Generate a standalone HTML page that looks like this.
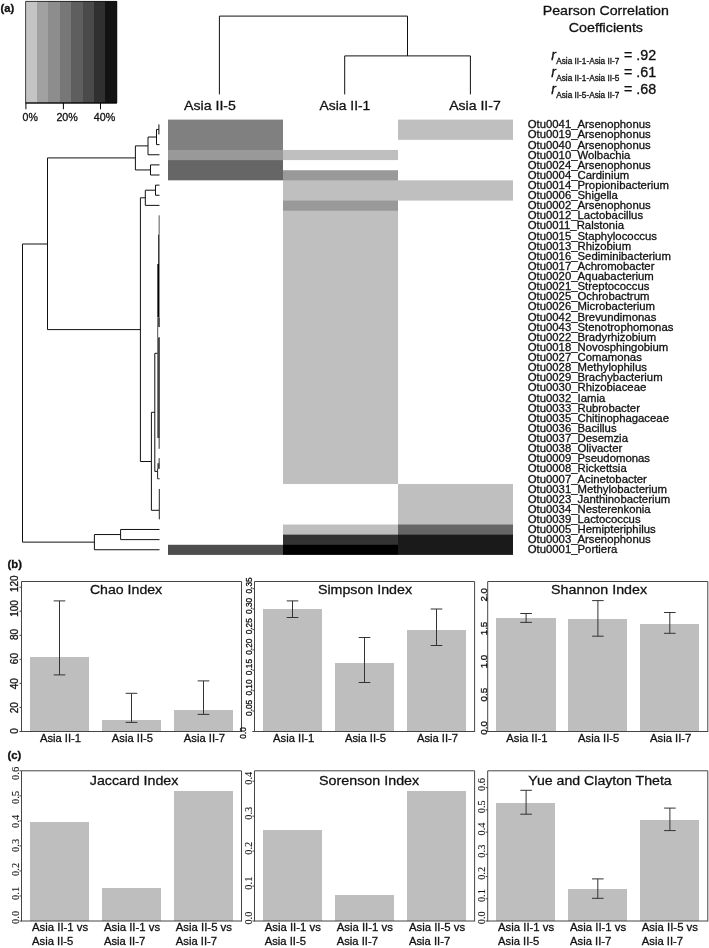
<!DOCTYPE html>
<html lang="en"><head><meta charset="utf-8"><title>Figure</title>
<style>
html,body{margin:0;padding:0;background:#fff;}
svg{display:block;font-family:"Liberation Sans", Arial, Helvetica, sans-serif;fill:#111;}
text{stroke:#111;stroke-width:0.3px;}
.sf{font-family:"Liberation Serif", "Times New Roman", serif;stroke-width:0.12px;}
</style></head><body>
<svg width="709" height="948" viewBox="0 0 709 948">
<rect x="0" y="0" width="709" height="948" fill="#ffffff"/>
<text x="0.50" y="12.00" font-size="11.2" font-weight="bold" >(a)</text>
<g shape-rendering="crispEdges">
<rect x="25.60" y="1.40" width="11.70" height="101.60" fill="#c4c4c4" />
<rect x="37.00" y="1.40" width="11.70" height="101.60" fill="#a1a1a1" />
<rect x="48.40" y="1.40" width="11.70" height="101.60" fill="#8d8d8d" />
<rect x="59.80" y="1.40" width="11.70" height="101.60" fill="#777777" />
<rect x="71.20" y="1.40" width="11.70" height="101.60" fill="#5e5e5e" />
<rect x="82.60" y="1.40" width="11.70" height="101.60" fill="#4a4a4a" />
<rect x="94.00" y="1.40" width="11.70" height="101.60" fill="#303030" />
<rect x="105.40" y="1.40" width="11.70" height="101.60" fill="#131313" />
</g>
<path d="M25.60,1.40 H116.80 V103.00 H25.60 Z" fill="none" stroke="#111" stroke-width="0.8" />
<line x1="25.60" y1="103.00" x2="116.80" y2="103.00" stroke="#000" stroke-width="1.2" />
<line x1="25.90" y1="103.00" x2="25.90" y2="109.20" stroke="#000" stroke-width="1.0" />
<text x="22.60" y="121.00" font-size="10.8" textLength="15.30" lengthAdjust="spacingAndGlyphs" >0%</text>
<line x1="63.40" y1="103.00" x2="63.40" y2="109.20" stroke="#000" stroke-width="1.0" />
<text x="56.40" y="121.00" font-size="10.8" textLength="21.50" lengthAdjust="spacingAndGlyphs" >20%</text>
<line x1="100.50" y1="103.00" x2="100.50" y2="109.20" stroke="#000" stroke-width="1.0" />
<text x="93.80" y="121.00" font-size="10.8" textLength="21.50" lengthAdjust="spacingAndGlyphs" >40%</text>
<g>
<rect x="168.00" y="119.60" width="115.00" height="30.97" fill="#808080" />
<rect x="168.00" y="149.97" width="115.00" height="10.72" fill="#999999" />
<rect x="168.00" y="160.09" width="115.00" height="20.25" fill="#666666" />
<rect x="168.00" y="544.78" width="115.00" height="10.12" fill="#4d4d4d" />
<rect x="283.00" y="149.97" width="115.00" height="10.12" fill="#bfbfbf" />
<rect x="283.00" y="170.22" width="115.00" height="10.72" fill="#999999" />
<rect x="283.00" y="180.34" width="115.00" height="20.85" fill="#bfbfbf" />
<rect x="283.00" y="200.59" width="115.00" height="10.72" fill="#999999" />
<rect x="283.00" y="210.71" width="115.00" height="273.33" fill="#bfbfbf" />
<rect x="283.00" y="524.53" width="115.00" height="10.72" fill="#bfbfbf" />
<rect x="283.00" y="534.65" width="115.00" height="10.72" fill="#333333" />
<rect x="283.00" y="544.78" width="115.00" height="10.12" fill="#000000" />
<rect x="398.00" y="119.60" width="115.00" height="20.25" fill="#bfbfbf" />
<rect x="398.00" y="180.34" width="115.00" height="20.25" fill="#bfbfbf" />
<rect x="398.00" y="484.04" width="115.00" height="41.09" fill="#bfbfbf" />
<rect x="398.00" y="524.53" width="115.00" height="10.72" fill="#666666" />
<rect x="398.00" y="534.65" width="115.00" height="20.25" fill="#1a1a1a" />
</g>
<path d="M219.4,94.4 V16.1 H407.5 V55.9 M344.7,94.4 V55.9 H470.4 V94.4" fill="none" stroke="#111" stroke-width="1.0" />
<text x="184.00" y="110.00" font-size="13.7" textLength="51.90" lengthAdjust="spacingAndGlyphs" >Asia II-5</text>
<text x="319.50" y="110.00" font-size="13.7" textLength="50.80" lengthAdjust="spacingAndGlyphs" >Asia II-1</text>
<text x="449.20" y="110.00" font-size="13.7" textLength="51.60" lengthAdjust="spacingAndGlyphs" >Asia II-7</text>
<text x="542.70" y="15.20" font-size="13.6" textLength="126.20" lengthAdjust="spacingAndGlyphs" >Pearson Correlation</text>
<text x="568.80" y="32.00" font-size="13.6" textLength="74.20" lengthAdjust="spacingAndGlyphs" >Coefficients</text>
<text x="551.30" y="60.00" font-size="14" font-style="italic" >r</text>
<text x="556.20" y="64.40" font-size="8.2" textLength="63.20" lengthAdjust="spacingAndGlyphs" >Asia II-1-Asia II-7</text>
<text x="624.00" y="60.00" font-size="13.8" textLength="32.20" lengthAdjust="spacingAndGlyphs" >= .92</text>
<text x="551.30" y="77.00" font-size="14" font-style="italic" >r</text>
<text x="556.20" y="81.40" font-size="8.2" textLength="63.20" lengthAdjust="spacingAndGlyphs" >Asia II-1-Asia II-5</text>
<text x="624.00" y="77.00" font-size="13.8" textLength="32.20" lengthAdjust="spacingAndGlyphs" >= .61</text>
<text x="551.30" y="94.00" font-size="14" font-style="italic" >r</text>
<text x="556.20" y="98.40" font-size="8.2" textLength="63.20" lengthAdjust="spacingAndGlyphs" >Asia II-5-Asia II-7</text>
<text x="624.00" y="94.00" font-size="13.8" textLength="32.20" lengthAdjust="spacingAndGlyphs" >= .68</text>
<g font-size="11.35">
<text x="527.7" y="128.26">Otu0041_Arsenophonus</text>
<text x="527.7" y="138.38">Otu0019_Arsenophonus</text>
<text x="527.7" y="148.51">Otu0040_Arsenophonus</text>
<text x="527.7" y="158.63">Otu0010_Wolbachia</text>
<text x="527.7" y="168.75">Otu0024_Arsenophonus</text>
<text x="527.7" y="178.88">Otu0004_Cardinium</text>
<text x="527.7" y="189.00">Otu0014_Propionibacterium</text>
<text x="527.7" y="199.12">Otu0006_Shigella</text>
<text x="527.7" y="209.25">Otu0002_Arsenophonus</text>
<text x="527.7" y="219.37">Otu0012_Lactobacillus</text>
<text x="527.7" y="229.49">Otu0011_Ralstonia</text>
<text x="527.7" y="239.62">Otu0015_Staphylococcus</text>
<text x="527.7" y="249.74">Otu0013_Rhizobium</text>
<text x="527.7" y="259.86">Otu0016_Sediminibacterium</text>
<text x="527.7" y="269.99">Otu0017_Achromobacter</text>
<text x="527.7" y="280.11">Otu0020_Aquabacterium</text>
<text x="527.7" y="290.23">Otu0021_Streptococcus</text>
<text x="527.7" y="300.36">Otu0025_Ochrobactrum</text>
<text x="527.7" y="310.48">Otu0026_Microbacterium</text>
<text x="527.7" y="320.60">Otu0042_Brevundimonas</text>
<text x="527.7" y="330.73">Otu0043_Stenotrophomonas</text>
<text x="527.7" y="340.85">Otu0022_Bradyrhizobium</text>
<text x="527.7" y="350.97">Otu0018_Novosphingobium</text>
<text x="527.7" y="361.10">Otu0027_Comamonas</text>
<text x="527.7" y="371.22">Otu0028_Methylophilus</text>
<text x="527.7" y="381.34">Otu0029_Brachybacterium</text>
<text x="527.7" y="391.47">Otu0030_Rhizobiaceae</text>
<text x="527.7" y="401.59">Otu0032_Iamia</text>
<text x="527.7" y="411.71">Otu0033_Rubrobacter</text>
<text x="527.7" y="421.84">Otu0035_Chitinophagaceae</text>
<text x="527.7" y="431.96">Otu0036_Bacillus</text>
<text x="527.7" y="442.08">Otu0037_Desemzia</text>
<text x="527.7" y="452.21">Otu0038_Olivacter</text>
<text x="527.7" y="462.33">Otu0009_Pseudomonas</text>
<text x="527.7" y="472.45">Otu0008_Rickettsia</text>
<text x="527.7" y="482.58">Otu0007_Acinetobacter</text>
<text x="527.7" y="492.70">Otu0031_Methylobacterium</text>
<text x="527.7" y="502.82">Otu0023_Janthinobacterium</text>
<text x="527.7" y="512.95">Otu0034_Nesterenkonia</text>
<text x="527.7" y="523.07">Otu0039_Lactococcus</text>
<text x="527.7" y="533.19">Otu0005_Hemipteriphilus</text>
<text x="527.7" y="543.32">Otu0003_Arsenophonus</text>
<text x="527.7" y="553.44">Otu0001_Portiera</text>
</g>
<path d="M158.9,124.36 V134.49 M158.9,129.43 H156.5 V144.62 H159.5 M156.5,137.02 H148.0 V154.75 H159.5 M159.5,164.88 H150.5 V175.00 H159.5 M148.0,145.89 H135.4 V169.94 H150.5 M159.5,185.13 H155.5 V195.26 H159.5 M155.5,190.20 H145.3 V205.39 H159.5 M145.3,197.79 H140.4 V461.5 H151.4 M154.8,412.3 H151.4 V510.3 H159.0 M157.6,353.3 H154.8 V471.4 H157.6 M135.4,157.91 H47.5 V329.6 H140.4 M159.5,529.48 H120.6 V539.61 H159.5 M120.6,534.54 H94.4 V549.74 H159.5 M47.5,244.0 H22.5 V542.14 H94.4" fill="none" stroke="#111" stroke-width="1.0" />
<line x1="159.15" y1="215.30" x2="159.15" y2="234.50" stroke="#444" stroke-width="0.9" />
<line x1="158.80" y1="234.50" x2="158.80" y2="264.00" stroke="#333" stroke-width="1.5" />
<line x1="158.40" y1="264.00" x2="158.40" y2="317.30" stroke="#000" stroke-width="2.1" />
<line x1="158.60" y1="317.30" x2="158.60" y2="327.10" stroke="#4a4a4a" stroke-width="2.6" />
<line x1="157.70" y1="327.10" x2="157.70" y2="337.30" stroke="#505050" stroke-width="1.0" />
<line x1="158.60" y1="337.30" x2="158.60" y2="438.00" stroke="#444" stroke-width="2.6" />
<line x1="159.15" y1="438.00" x2="159.15" y2="448.80" stroke="#333" stroke-width="1.0" />
<line x1="159.15" y1="458.10" x2="159.15" y2="468.70" stroke="#333" stroke-width="1.0" />
<path d="M157.6,468.7 V478.8 H159.6" fill="none" stroke="#222" stroke-width="1.0" />
<line x1="158.40" y1="463.20" x2="158.40" y2="468.90" stroke="#444" stroke-width="2.0" />
<line x1="159.30" y1="488.97" x2="159.30" y2="519.35" stroke="#222" stroke-width="1.0" />
<text x="7.50" y="568.40" font-size="11.3" font-weight="bold" >(b)</text>
<text x="7.50" y="759.00" font-size="11.3" font-weight="bold" >(c)</text>
<g shape-rendering="crispEdges">
<rect x="30.30" y="657.40" width="58.80" height="74.10" fill="#bebebe" />
<rect x="102.20" y="719.70" width="58.80" height="11.80" fill="#bebebe" />
<rect x="174.00" y="710.30" width="59.00" height="21.20" fill="#bebebe" />
</g>
<path d="M21.50,732.00 V581.50 H241.50 V732.00" fill="none" stroke="#454545" stroke-width="1.0" />
<line x1="21.50" y1="731.50" x2="241.50" y2="731.50" stroke="#454545" stroke-width="1.0" />
<text x="89.90" y="594.00" font-size="13.7" textLength="72.30" lengthAdjust="spacingAndGlyphs" >Chao Index</text>
<path d="M53.70,600.90 H65.30 M59.50,600.90 V674.90 M53.70,674.90 H65.30" fill="none" stroke="#333" stroke-width="1.0" />
<path d="M125.70,693.30 H137.30 M131.50,693.30 V722.40 M125.70,722.40 H137.30" fill="none" stroke="#333" stroke-width="1.0" />
<path d="M197.70,680.90 H209.30 M203.50,680.90 V714.40 M197.70,714.40 H209.30" fill="none" stroke="#333" stroke-width="1.0" />
<line x1="19.50" y1="731.50" x2="21.50" y2="731.50" stroke="#454545" stroke-width="1.0" />
<text x="18.30" y="730.90" font-size="10.0" text-anchor="middle" transform="rotate(-90 18.30 730.90)" >0</text>
<line x1="19.50" y1="707.40" x2="21.50" y2="707.40" stroke="#454545" stroke-width="1.0" />
<text x="18.30" y="707.80" font-size="10.0" text-anchor="middle" transform="rotate(-90 18.30 707.80)" >20</text>
<line x1="19.50" y1="683.40" x2="21.50" y2="683.40" stroke="#454545" stroke-width="1.0" />
<text x="18.30" y="683.70" font-size="10.0" text-anchor="middle" transform="rotate(-90 18.30 683.70)" >40</text>
<line x1="19.50" y1="659.30" x2="21.50" y2="659.30" stroke="#454545" stroke-width="1.0" />
<text x="18.30" y="658.60" font-size="10.0" text-anchor="middle" transform="rotate(-90 18.30 658.60)" >60</text>
<line x1="19.50" y1="635.30" x2="21.50" y2="635.30" stroke="#454545" stroke-width="1.0" />
<text x="18.30" y="634.50" font-size="10.0" text-anchor="middle" transform="rotate(-90 18.30 634.50)" >80</text>
<line x1="19.50" y1="611.20" x2="21.50" y2="611.20" stroke="#454545" stroke-width="1.0" />
<text x="18.30" y="608.50" font-size="10.0" text-anchor="middle" transform="rotate(-90 18.30 608.50)" >100</text>
<line x1="19.50" y1="587.20" x2="21.50" y2="587.20" stroke="#454545" stroke-width="1.0" />
<text x="18.30" y="583.70" font-size="10.0" text-anchor="middle" transform="rotate(-90 18.30 583.70)" >120</text>
<text x="39.90" y="742.00" font-size="11.2" textLength="41.20" lengthAdjust="spacingAndGlyphs" >Asia II-1</text>
<text x="111.80" y="742.00" font-size="11.2" textLength="41.20" lengthAdjust="spacingAndGlyphs" >Asia II-5</text>
<text x="183.80" y="742.00" font-size="11.2" textLength="41.20" lengthAdjust="spacingAndGlyphs" >Asia II-7</text>
<g shape-rendering="crispEdges">
<rect x="262.90" y="609.00" width="59.50" height="122.50" fill="#bebebe" />
<rect x="334.90" y="662.50" width="59.10" height="69.00" fill="#bebebe" />
<rect x="407.10" y="630.00" width="59.10" height="101.50" fill="#bebebe" />
</g>
<path d="M254.50,732.00 V581.50 H474.60 V732.00" fill="none" stroke="#454545" stroke-width="1.0" />
<line x1="254.50" y1="731.50" x2="474.60" y2="731.50" stroke="#454545" stroke-width="1.0" />
<text x="317.90" y="594.00" font-size="13.7" textLength="94.20" lengthAdjust="spacingAndGlyphs" >Simpson Index</text>
<path d="M286.70,600.90 H298.30 M292.50,600.90 V617.50 M286.70,617.50 H298.30" fill="none" stroke="#333" stroke-width="1.0" />
<path d="M358.70,637.50 H370.30 M364.50,637.50 V682.50 M358.70,682.50 H370.30" fill="none" stroke="#333" stroke-width="1.0" />
<path d="M430.70,609.00 H442.30 M436.50,609.00 V645.50 M430.70,645.50 H442.30" fill="none" stroke="#333" stroke-width="1.0" />
<line x1="252.50" y1="711.09" x2="254.50" y2="711.09" stroke="#454545" stroke-width="1.0" />
<text x="252.40" y="707.89" font-size="8.3" text-anchor="middle" transform="rotate(-90 252.40 707.89)" >0.05</text>
<line x1="252.50" y1="690.68" x2="254.50" y2="690.68" stroke="#454545" stroke-width="1.0" />
<text x="252.40" y="687.48" font-size="8.3" text-anchor="middle" transform="rotate(-90 252.40 687.48)" >0.10</text>
<line x1="252.50" y1="670.27" x2="254.50" y2="670.27" stroke="#454545" stroke-width="1.0" />
<text x="252.40" y="667.07" font-size="8.3" text-anchor="middle" transform="rotate(-90 252.40 667.07)" >0.15</text>
<line x1="252.50" y1="649.86" x2="254.50" y2="649.86" stroke="#454545" stroke-width="1.0" />
<text x="252.40" y="646.66" font-size="8.3" text-anchor="middle" transform="rotate(-90 252.40 646.66)" >0.20</text>
<line x1="252.50" y1="629.45" x2="254.50" y2="629.45" stroke="#454545" stroke-width="1.0" />
<text x="252.40" y="626.25" font-size="8.3" text-anchor="middle" transform="rotate(-90 252.40 626.25)" >0.25</text>
<line x1="252.50" y1="609.04" x2="254.50" y2="609.04" stroke="#454545" stroke-width="1.0" />
<text x="252.40" y="605.84" font-size="8.3" text-anchor="middle" transform="rotate(-90 252.40 605.84)" >0.30</text>
<line x1="252.50" y1="588.63" x2="254.50" y2="588.63" stroke="#454545" stroke-width="1.0" />
<text x="252.40" y="585.43" font-size="8.3" text-anchor="middle" transform="rotate(-90 252.40 585.43)" >0.35</text>
<line x1="252.30" y1="731.50" x2="254.50" y2="731.50" stroke="#454545" stroke-width="1.0" />
<text x="246.20" y="732.90" font-size="8.3" text-anchor="middle" transform="rotate(-90 246.20 732.90)" >0.0</text>
<text x="273.10" y="742.00" font-size="11.2" textLength="41.20" lengthAdjust="spacingAndGlyphs" >Asia II-1</text>
<text x="344.90" y="742.00" font-size="11.2" textLength="41.20" lengthAdjust="spacingAndGlyphs" >Asia II-5</text>
<text x="416.90" y="742.00" font-size="11.2" textLength="41.20" lengthAdjust="spacingAndGlyphs" >Asia II-7</text>
<g shape-rendering="crispEdges">
<rect x="496.20" y="618.20" width="59.40" height="113.30" fill="#bebebe" />
<rect x="568.00" y="619.00" width="59.20" height="112.50" fill="#bebebe" />
<rect x="640.00" y="623.50" width="59.20" height="108.00" fill="#bebebe" />
</g>
<path d="M487.70,732.00 V581.50 H707.80 V732.00" fill="none" stroke="#454545" stroke-width="1.0" />
<line x1="487.70" y1="731.50" x2="707.80" y2="731.50" stroke="#454545" stroke-width="1.0" />
<text x="551.10" y="594.00" font-size="13.7" textLength="96.00" lengthAdjust="spacingAndGlyphs" >Shannon Index</text>
<path d="M520.30,613.50 H531.90 M526.10,613.50 V622.40 M520.30,622.40 H531.90" fill="none" stroke="#333" stroke-width="1.0" />
<path d="M592.10,600.60 H603.70 M597.90,600.60 V636.20 M592.10,636.20 H603.70" fill="none" stroke="#333" stroke-width="1.0" />
<path d="M664.00,612.50 H675.60 M669.80,612.50 V633.30 M664.00,633.30 H675.60" fill="none" stroke="#333" stroke-width="1.0" />
<line x1="485.70" y1="731.50" x2="487.70" y2="731.50" stroke="#454545" stroke-width="1.0" />
<text x="486.60" y="727.90" font-size="9.8" text-anchor="middle" transform="rotate(-90 486.60 727.90)" >0.0</text>
<line x1="485.70" y1="698.30" x2="487.70" y2="698.30" stroke="#454545" stroke-width="1.0" />
<text x="486.60" y="694.70" font-size="9.8" text-anchor="middle" transform="rotate(-90 486.60 694.70)" >0.5</text>
<line x1="485.70" y1="665.10" x2="487.70" y2="665.10" stroke="#454545" stroke-width="1.0" />
<text x="486.60" y="661.50" font-size="9.8" text-anchor="middle" transform="rotate(-90 486.60 661.50)" >1.0</text>
<line x1="485.70" y1="632.00" x2="487.70" y2="632.00" stroke="#454545" stroke-width="1.0" />
<text x="486.60" y="628.50" font-size="9.8" text-anchor="middle" transform="rotate(-90 486.60 628.50)" >1.5</text>
<line x1="485.70" y1="598.80" x2="487.70" y2="598.80" stroke="#454545" stroke-width="1.0" />
<text x="486.60" y="594.80" font-size="9.8" text-anchor="middle" transform="rotate(-90 486.60 594.80)" >2.0</text>
<text x="506.30" y="742.00" font-size="11.2" textLength="41.20" lengthAdjust="spacingAndGlyphs" >Asia II-1</text>
<text x="578.10" y="742.00" font-size="11.2" textLength="41.20" lengthAdjust="spacingAndGlyphs" >Asia II-5</text>
<text x="650.10" y="742.00" font-size="11.2" textLength="41.20" lengthAdjust="spacingAndGlyphs" >Asia II-7</text>
<g shape-rendering="crispEdges">
<rect x="30.20" y="822.00" width="59.00" height="99.00" fill="#bebebe" />
<rect x="102.10" y="888.00" width="59.00" height="33.00" fill="#bebebe" />
<rect x="174.00" y="790.90" width="59.10" height="130.10" fill="#bebebe" />
</g>
<path d="M21.50,921.50 V770.80 H241.50 V921.50" fill="none" stroke="#454545" stroke-width="1.0" />
<line x1="21.50" y1="921.00" x2="241.50" y2="921.00" stroke="#454545" stroke-width="1.0" />
<text x="89.80" y="785.00" font-size="13.7" textLength="88.60" lengthAdjust="spacingAndGlyphs" >Jaccard Index</text>
<line x1="19.50" y1="921.00" x2="21.50" y2="921.00" stroke="#454545" stroke-width="1.0" />
<text x="18.90" y="917.40" font-size="10.4" text-anchor="middle" class="sf" transform="rotate(-90 18.90 917.40)" >0.0</text>
<line x1="19.50" y1="895.97" x2="21.50" y2="895.97" stroke="#454545" stroke-width="1.0" />
<text x="18.90" y="893.40" font-size="10.4" text-anchor="middle" class="sf" transform="rotate(-90 18.90 893.40)" >0.1</text>
<line x1="19.50" y1="870.94" x2="21.50" y2="870.94" stroke="#454545" stroke-width="1.0" />
<text x="18.90" y="869.40" font-size="10.4" text-anchor="middle" class="sf" transform="rotate(-90 18.90 869.40)" >0.2</text>
<line x1="19.50" y1="845.91" x2="21.50" y2="845.91" stroke="#454545" stroke-width="1.0" />
<text x="18.90" y="845.40" font-size="10.4" text-anchor="middle" class="sf" transform="rotate(-90 18.90 845.40)" >0.3</text>
<line x1="19.50" y1="820.88" x2="21.50" y2="820.88" stroke="#454545" stroke-width="1.0" />
<text x="18.90" y="821.40" font-size="10.4" text-anchor="middle" class="sf" transform="rotate(-90 18.90 821.40)" >0.4</text>
<line x1="19.50" y1="795.85" x2="21.50" y2="795.85" stroke="#454545" stroke-width="1.0" />
<text x="18.90" y="797.40" font-size="10.4" text-anchor="middle" class="sf" transform="rotate(-90 18.90 797.40)" >0.5</text>
<line x1="19.50" y1="770.82" x2="21.50" y2="770.82" stroke="#454545" stroke-width="1.0" />
<text x="18.90" y="773.40" font-size="10.4" text-anchor="middle" class="sf" transform="rotate(-90 18.90 773.40)" >0.6</text>
<text x="32.00" y="931.00" font-size="11.2" textLength="56.20" lengthAdjust="spacingAndGlyphs" >Asia II-1 vs</text>
<text x="32.00" y="945.00" font-size="11.2" textLength="41.30" lengthAdjust="spacingAndGlyphs" >Asia II-5</text>
<text x="103.90" y="931.00" font-size="11.2" textLength="56.20" lengthAdjust="spacingAndGlyphs" >Asia II-1 vs</text>
<text x="103.90" y="945.00" font-size="11.2" textLength="41.30" lengthAdjust="spacingAndGlyphs" >Asia II-7</text>
<text x="175.80" y="931.00" font-size="11.2" textLength="56.20" lengthAdjust="spacingAndGlyphs" >Asia II-5 vs</text>
<text x="175.80" y="945.00" font-size="11.2" textLength="41.30" lengthAdjust="spacingAndGlyphs" >Asia II-7</text>
<g shape-rendering="crispEdges">
<rect x="262.90" y="830.30" width="59.30" height="90.70" fill="#bebebe" />
<rect x="334.90" y="895.40" width="59.30" height="25.60" fill="#bebebe" />
<rect x="407.10" y="790.90" width="59.10" height="130.10" fill="#bebebe" />
</g>
<path d="M254.50,921.50 V770.80 H474.60 V921.50" fill="none" stroke="#454545" stroke-width="1.0" />
<line x1="254.50" y1="921.00" x2="474.60" y2="921.00" stroke="#454545" stroke-width="1.0" />
<text x="319.10" y="785.00" font-size="13.7" textLength="100.10" lengthAdjust="spacingAndGlyphs" >Sorenson Index</text>
<line x1="252.50" y1="921.00" x2="254.50" y2="921.00" stroke="#454545" stroke-width="1.0" />
<text x="252.40" y="918.10" font-size="10.4" text-anchor="middle" class="sf" transform="rotate(-90 252.40 918.10)" >0.0</text>
<line x1="252.50" y1="886.05" x2="254.50" y2="886.05" stroke="#454545" stroke-width="1.0" />
<text x="252.40" y="883.15" font-size="10.4" text-anchor="middle" class="sf" transform="rotate(-90 252.40 883.15)" >0.1</text>
<line x1="252.50" y1="851.10" x2="254.50" y2="851.10" stroke="#454545" stroke-width="1.0" />
<text x="252.40" y="848.20" font-size="10.4" text-anchor="middle" class="sf" transform="rotate(-90 252.40 848.20)" >0.2</text>
<line x1="252.50" y1="816.15" x2="254.50" y2="816.15" stroke="#454545" stroke-width="1.0" />
<text x="252.40" y="813.25" font-size="10.4" text-anchor="middle" class="sf" transform="rotate(-90 252.40 813.25)" >0.3</text>
<line x1="252.50" y1="781.20" x2="254.50" y2="781.20" stroke="#454545" stroke-width="1.0" />
<text x="252.40" y="778.30" font-size="10.4" text-anchor="middle" class="sf" transform="rotate(-90 252.40 778.30)" >0.4</text>
<text x="264.70" y="931.00" font-size="11.2" textLength="56.20" lengthAdjust="spacingAndGlyphs" >Asia II-1 vs</text>
<text x="264.70" y="945.00" font-size="11.2" textLength="41.30" lengthAdjust="spacingAndGlyphs" >Asia II-5</text>
<text x="336.70" y="931.00" font-size="11.2" textLength="56.20" lengthAdjust="spacingAndGlyphs" >Asia II-1 vs</text>
<text x="336.70" y="945.00" font-size="11.2" textLength="41.30" lengthAdjust="spacingAndGlyphs" >Asia II-7</text>
<text x="408.90" y="931.00" font-size="11.2" textLength="56.20" lengthAdjust="spacingAndGlyphs" >Asia II-5 vs</text>
<text x="408.90" y="945.00" font-size="11.2" textLength="41.30" lengthAdjust="spacingAndGlyphs" >Asia II-7</text>
<g shape-rendering="crispEdges">
<rect x="496.20" y="802.80" width="59.00" height="118.20" fill="#bebebe" />
<rect x="568.20" y="889.10" width="59.10" height="31.90" fill="#bebebe" />
<rect x="640.00" y="819.80" width="59.10" height="101.20" fill="#bebebe" />
</g>
<path d="M487.70,921.50 V770.80 H707.80 V921.50" fill="none" stroke="#454545" stroke-width="1.0" />
<line x1="487.70" y1="921.00" x2="707.80" y2="921.00" stroke="#454545" stroke-width="1.0" />
<text x="528.30" y="785.00" font-size="13.7" textLength="143.40" lengthAdjust="spacingAndGlyphs" >Yue and Clayton Theta</text>
<path d="M520.30,790.30 H531.90 M526.10,790.30 V814.20 M520.30,814.20 H531.90" fill="none" stroke="#333" stroke-width="1.0" />
<path d="M592.00,878.90 H603.60 M597.80,878.90 V898.30 M592.00,898.30 H603.60" fill="none" stroke="#333" stroke-width="1.0" />
<path d="M664.10,808.10 H675.70 M669.90,808.10 V830.60 M664.10,830.60 H675.70" fill="none" stroke="#333" stroke-width="1.0" />
<line x1="485.70" y1="921.00" x2="487.70" y2="921.00" stroke="#454545" stroke-width="1.0" />
<text x="485.10" y="917.80" font-size="10.4" text-anchor="middle" class="sf" transform="rotate(-90 485.10 917.80)" >0.0</text>
<line x1="485.70" y1="898.78" x2="487.70" y2="898.78" stroke="#454545" stroke-width="1.0" />
<text x="485.10" y="895.58" font-size="10.4" text-anchor="middle" class="sf" transform="rotate(-90 485.10 895.58)" >0.1</text>
<line x1="485.70" y1="876.56" x2="487.70" y2="876.56" stroke="#454545" stroke-width="1.0" />
<text x="485.10" y="873.36" font-size="10.4" text-anchor="middle" class="sf" transform="rotate(-90 485.10 873.36)" >0.2</text>
<line x1="485.70" y1="854.34" x2="487.70" y2="854.34" stroke="#454545" stroke-width="1.0" />
<text x="485.10" y="851.14" font-size="10.4" text-anchor="middle" class="sf" transform="rotate(-90 485.10 851.14)" >0.3</text>
<line x1="485.70" y1="832.12" x2="487.70" y2="832.12" stroke="#454545" stroke-width="1.0" />
<text x="485.10" y="828.92" font-size="10.4" text-anchor="middle" class="sf" transform="rotate(-90 485.10 828.92)" >0.4</text>
<line x1="485.70" y1="809.90" x2="487.70" y2="809.90" stroke="#454545" stroke-width="1.0" />
<text x="485.10" y="806.70" font-size="10.4" text-anchor="middle" class="sf" transform="rotate(-90 485.10 806.70)" >0.5</text>
<line x1="485.70" y1="787.68" x2="487.70" y2="787.68" stroke="#454545" stroke-width="1.0" />
<text x="485.10" y="784.48" font-size="10.4" text-anchor="middle" class="sf" transform="rotate(-90 485.10 784.48)" >0.6</text>
<text x="498.00" y="931.00" font-size="11.2" textLength="56.20" lengthAdjust="spacingAndGlyphs" >Asia II-1 vs</text>
<text x="498.00" y="945.00" font-size="11.2" textLength="41.30" lengthAdjust="spacingAndGlyphs" >Asia II-5</text>
<text x="570.00" y="931.00" font-size="11.2" textLength="56.20" lengthAdjust="spacingAndGlyphs" >Asia II-1 vs</text>
<text x="570.00" y="945.00" font-size="11.2" textLength="41.30" lengthAdjust="spacingAndGlyphs" >Asia II-7</text>
<text x="641.80" y="931.00" font-size="11.2" textLength="56.20" lengthAdjust="spacingAndGlyphs" >Asia II-5 vs</text>
<text x="641.80" y="945.00" font-size="11.2" textLength="41.30" lengthAdjust="spacingAndGlyphs" >Asia II-7</text>
</svg>
</body></html>
